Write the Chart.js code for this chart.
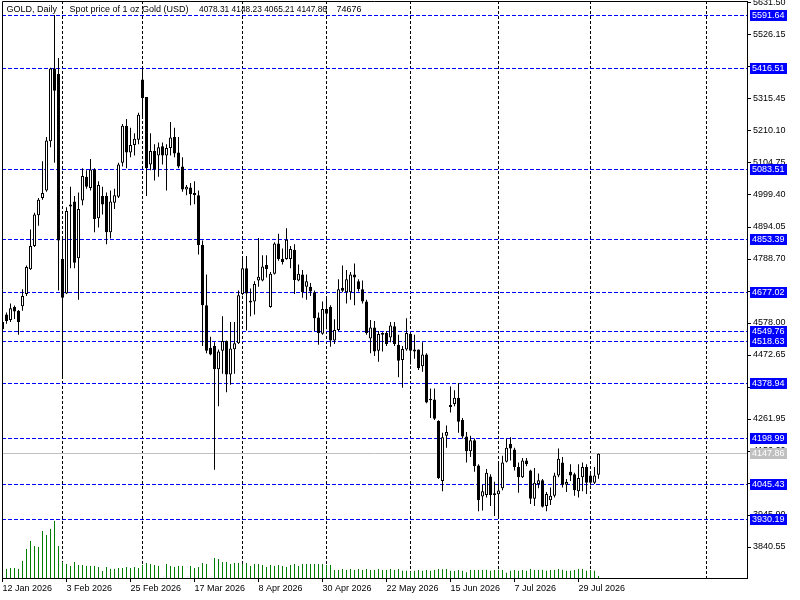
<!DOCTYPE html>
<html>
<head>
<meta charset="utf-8">
<title>GOLD, Daily</title>
<script src="https://cdn.jsdelivr.net/npm/chart.js@4.4.1/dist/chart.umd.min.js"></script>
<style>
  html, body { margin: 0; padding: 0; background: #fff; }
  canvas { display: block; }
</style>
</head>
<body>
<canvas id="goldChart" width="800" height="600"></canvas>
<script>
// daily bars, bar 0 = 12 Jan 2026
const open = [
  4557.4, 4606.1, 4587.8, 4630.5, 4618.3, 4632.9, 4673.1, 4754.7, 4831.4, 4932.5,
  4989.8, 5014.1, 5176.1, 5416.1, 5397.8, 4788.8, 4675.5, 4961.8, 4977.6, 4791.2,
  4981.2, 5059.2, 5022.7, 5083.6, 4922.8, 4995.9, 4995.9, 4876.5, 4973.9, 4993.4,
  5105.5, 5227.3, 5139.6, 5163.9, 5181.0, 5379.5, 5322.3, 5099.4, 5144.5, 5129.8,
  5160.3, 5129.8, 5154.2, 5190.7, 5139.6, 5093.3, 5017.8, 5023.9, 4999.5, 4998.3,
  4835.1, 4636.6, 4496.5, 4502.6, 4425.8, 4486.7, 4518.4, 4408.8, 4491.6, 4511.1,
  4673.1, 4758.4, 4651.2, 4648.7, 4718.2, 4718.2, 4769.3, 4630.5, 4740.1, 4839.9,
  4788.8, 4788.8, 4788.8, 4819.3, 4718.2, 4737.6, 4697.4, 4697.4, 4679.2, 4596.4,
  4542.8, 4624.4, 4630.5, 4520.8, 4554.9, 4693.8, 4679.2, 4679.2, 4737.6, 4715.7,
  4688.9, 4648.7, 4526.9, 4563.5, 4486.7, 4545.2, 4545.2, 4530.6, 4567.1, 4506.2,
  4456.3, 4490.4, 4542.8, 4490.4, 4490.4, 4435.6, 4474.6, 4328.4, 4326.0, 4255.3,
  4058.0, 4206.6, 4301.6, 4311.3, 4332.1, 4259.0, 4204.2, 4155.4, 4192.0, 4109.2,
  4006.8, 4011.7, 4072.6, 4017.8, 4014.2, 4033.6, 4121.3, 4179.8, 4161.5, 4104.3,
  4070.2, 4125.0, 4092.1, 3999.5, 4048.3, 4060.4, 3975.2, 3994.7, 4009.3, 4076.3,
  4118.9, 4045.8, 4088.4, 4079.9, 4023.9, 4070.2, 4104.3, 4076.3, 4051.9, 4078.31
];
const high = [
  4600.0, 4612.2, 4642.6, 4635.3, 4620.7, 4688.9, 4766.9, 4886.2, 4941.0, 4989.8,
  5110.4, 5190.7, 5418.5, 5591.64, 5450.2, 4861.9, 4959.3, 5026.3, 4995.9, 5008.0,
  5087.2, 5081.1, 5117.7, 5087.2, 5044.6, 5026.3, 5008.0, 5014.1, 5020.2, 5105.5,
  5233.4, 5249.2, 5221.2, 5202.9, 5269.9, 5416.5, 5322.3, 5202.9, 5166.4, 5172.5,
  5172.5, 5166.4, 5239.5, 5221.2, 5190.7, 5123.8, 5032.4, 5038.5, 5044.6, 5014.1,
  4849.7, 4737.6, 4533.0, 4514.8, 4490.4, 4600.0, 4520.8, 4581.7, 4581.7, 4685.3,
  4798.5, 4798.5, 4691.4, 4715.7, 4858.2, 4801.0, 4801.0, 4746.2, 4843.6, 4871.6,
  4822.9, 4889.9, 4831.4, 4837.5, 4770.5, 4752.3, 4737.6, 4709.6, 4685.3, 4612.2,
  4648.7, 4667.0, 4636.6, 4590.3, 4721.8, 4766.9, 4752.3, 4746.2, 4774.2, 4721.8,
  4718.2, 4654.8, 4587.8, 4584.2, 4551.3, 4547.6, 4551.3, 4581.7, 4581.7, 4539.1,
  4502.6, 4593.9, 4545.2, 4539.1, 4490.4, 4514.8, 4478.2, 4362.5, 4362.5, 4257.8,
  4216.3, 4240.7, 4368.6, 4356.4, 4380.8, 4265.1, 4218.8, 4206.6, 4198.1, 4112.8,
  4045.8, 4097.0, 4079.9, 4055.6, 4116.5, 4140.8, 4198.1, 4201.7, 4167.6, 4118.9,
  4133.5, 4133.5, 4094.5, 4100.6, 4082.4, 4064.1, 4021.5, 4036.1, 4084.8, 4165.2,
  4137.2, 4064.1, 4112.8, 4084.8, 4112.8, 4118.9, 4112.8, 4082.4, 4104.3, 4148.23
];
const low = [
  4514.7, 4575.7, 4581.7, 4591.5, 4539.1, 4618.3, 4667.0, 4752.3, 4827.8, 4898.4,
  4983.7, 5010.5, 5156.6, 5105.5, 4685.3, 4401.5, 4673.1, 4758.4, 4758.4, 4654.8,
  4965.4, 5020.2, 5014.1, 4876.5, 4892.3, 4935.0, 4837.5, 4855.8, 4953.2, 4989.8,
  5093.3, 5087.2, 5123.8, 5129.8, 5166.4, 5251.6, 4995.9, 5081.1, 5047.0, 5059.2,
  5099.4, 5014.1, 5129.8, 5123.8, 5087.2, 5010.5, 4998.3, 4965.4, 4969.1, 4803.4,
  4502.6, 4478.2, 4472.1, 4094.5, 4304.0, 4411.2, 4350.3, 4374.7, 4411.2, 4508.7,
  4669.4, 4553.7, 4600.0, 4606.1, 4697.4, 4715.7, 4727.9, 4628.0, 4737.6, 4782.7,
  4770.5, 4786.4, 4758.4, 4673.1, 4715.7, 4660.9, 4654.8, 4667.0, 4551.3, 4506.2,
  4539.1, 4557.4, 4500.1, 4508.7, 4551.3, 4679.2, 4642.6, 4654.8, 4636.6, 4681.6,
  4642.6, 4539.1, 4478.2, 4469.7, 4450.2, 4484.3, 4502.6, 4514.8, 4502.6, 4399.0,
  4364.9, 4486.7, 4441.7, 4459.9, 4423.4, 4417.3, 4313.8, 4265.1, 4259.0, 4064.1,
  4023.9, 4167.6, 4283.3, 4304.0, 4216.3, 4198.1, 4118.9, 4137.2, 4088.4, 3958.1,
  3960.6, 4003.2, 3975.2, 3942.3, 3942.3, 4027.6, 4118.9, 4125.0, 4092.1, 4019.0,
  4067.7, 4106.7, 3982.5, 3975.2, 4033.6, 3970.3, 3958.1, 3978.8, 4003.2, 4070.2,
  4036.1, 4021.5, 4058.0, 4009.3, 4003.2, 4023.9, 4015.4, 4043.4, 4048.3, 4065.21
];
const close = [
  4581.7, 4584.2, 4626.8, 4615.8, 4581.7, 4667.0, 4762.0, 4831.4, 4935.0, 4983.7,
  5005.6, 5178.6, 5416.1, 5343.0, 4849.7, 4660.9, 4947.1, 4967.8, 4776.6, 4953.2,
  5061.6, 5026.3, 5083.6, 4920.3, 5032.4, 4967.8, 4876.5, 4977.6, 4998.3, 5099.4,
  5227.3, 5139.6, 5163.9, 5184.7, 5263.8, 5318.6, 5087.2, 5144.5, 5083.6, 5156.6,
  5129.8, 5154.2, 5188.3, 5135.9, 5093.3, 5017.8, 5026.3, 5001.9, 5005.6, 4835.1,
  4636.6, 4486.7, 4474.6, 4425.8, 4484.3, 4518.4, 4408.8, 4494.0, 4511.1, 4669.4,
  4758.4, 4675.5, 4645.1, 4706.0, 4730.4, 4764.4, 4755.9, 4740.1, 4839.9, 4788.8,
  4779.1, 4852.1, 4821.7, 4719.4, 4740.1, 4679.2, 4715.7, 4681.6, 4593.9, 4545.2,
  4624.4, 4608.5, 4520.8, 4554.9, 4688.9, 4684.1, 4721.8, 4737.6, 4727.9, 4688.9,
  4648.7, 4545.2, 4563.5, 4484.3, 4541.6, 4539.1, 4508.7, 4569.6, 4508.7, 4453.9,
  4492.8, 4545.2, 4486.7, 4484.3, 4429.5, 4474.6, 4316.2, 4323.5, 4262.6, 4067.7,
  4201.7, 4218.8, 4307.7, 4332.1, 4252.9, 4204.2, 4155.4, 4192.0, 4106.7, 3994.7,
  4023.9, 4084.8, 4011.7, 4011.7, 4026.3, 4118.9, 4167.6, 4165.2, 4104.3, 4070.2,
  4125.0, 4112.8, 3999.5, 4051.9, 4060.4, 3972.7, 4015.4, 4009.3, 4076.3, 4131.1,
  4045.8, 4054.3, 4076.3, 4027.6, 4067.7, 4104.3, 4051.9, 4051.9, 4076.3, 4147.86
];
const volume = [
  336000, 336000, 373000, 373000, 336000, 635000, 1083000, 1382000, 1195000, 1157000,
  1755000, 1606000, 1830000, 2128000, 1195000, 597000, 523000, 448000, 597000, 485000,
  485000, 448000, 448000, 448000, 411000, 261000, 411000, 336000, 336000, 373000,
  373000, 411000, 373000, 411000, 373000, 485000, 560000, 523000, 485000, 448000,
  0, 523000, 448000, 411000, 448000, 448000, 0, 448000, 373000, 411000,
  560000, 523000, 0, 747000, 709000, 597000, 597000, 523000, 560000, 560000,
  523000, 560000, 448000, 523000, 523000, 485000, 411000, 485000, 448000, 485000,
  448000, 411000, 485000, 523000, 448000, 523000, 523000, 523000, 523000, 523000,
  523000, 485000, 485000, 299000, 299000, 336000, 299000, 336000, 299000, 336000,
  299000, 336000, 299000, 299000, 336000, 299000, 299000, 336000, 299000, 336000,
  273000, 273000, 235000, 273000, 299000, 273000, 299000, 273000, 299000, 336000,
  325000, 336000, 273000, 261000, 299000, 273000, 213000, 299000, 299000, 299000,
  299000, 310000, 273000, 299000, 310000, 299000, 198000, 273000, 299000, 273000,
  299000, 273000, 336000, 299000, 299000, 310000, 273000, 299000, 299000, 336000,
  310000, 273000, 273000, 299000, 336000, 336000, 273000, 299000, 273000, 74676
];

// bottom axis labels and the bar each one sits on
const dateLabels = ["12 Jan 2026", "3 Feb 2026", "25 Feb 2026", "17 Mar 2026", "8 Apr 2026",
  "30 Apr 2026", "22 May 2026", "15 Jun 2026", "7 Jul 2026", "29 Jul 2026"];
const dateBars = [0, 16, 32, 48, 64, 80, 96, 112, 128, 144];

// bars with a vertical grid line
const gridBars = [15, 35, 60, 81, 102, 124, 147, 176];

// right price scale
const priceTicks = [5631.50, 5526.15, 5420.80, 5315.45, 5210.10, 5104.75, 4999.40, 4894.05, 4788.70,
  4683.35, 4578.00, 4472.65, 4367.30, 4261.95, 4156.60, 4051.25, 3945.90, 3840.55];
const levels = [5591.64, 5416.51, 5083.51, 4853.39, 4677.02, 4549.76, 4518.63, 4378.94, 4198.99, 4045.43, 3930.19];
const bid = 4147.86;

const header = ["GOLD, Daily", "Spot price of 1 oz Gold (USD)", "4078.31 4148.23 4065.21 4147.86", "74676"];

const FONT = '"Liberation Sans", Arial, sans-serif';
Chart.defaults.font.family = FONT;
Chart.defaults.font.size = 9;
Chart.defaults.color = '#000';

const ctx = document.getElementById('goldChart');

const bodies = open.map((o, i) => ({ x: i, y: [o, close[i]] }));
const wicks = low.map((l, i) => ({ x: i, y: [l, high[i]] }));
const vols = volume.map((v, i) => ({ x: i, y: v }));

// blue price lines, bid line, their boxes, frame and header
const overlay = {
  id: 'overlay',
  beforeDatasetsDraw(chart) {
    const { ctx, chartArea: a, scales: { y } } = chart;
    ctx.save();
    ctx.lineWidth = 1;
    ctx.strokeStyle = '#0000ff';
    ctx.setLineDash([4, 2]);
    levels.forEach(v => {
      const py = Math.floor(y.getPixelForValue(v)) + 0.5;
      ctx.beginPath();
      ctx.moveTo(a.left, py);
      ctx.lineTo(a.right, py);
      ctx.stroke();
    });
    ctx.setLineDash([]);
    ctx.strokeStyle = '#c0c0c0';
    const pb = Math.floor(y.getPixelForValue(bid)) + 0.5;
    ctx.beginPath();
    ctx.moveTo(a.left, pb);
    ctx.lineTo(a.right, pb);
    ctx.stroke();
    ctx.restore();
  },
  afterDraw(chart) {
    const { ctx, chartArea: a, scales: { y } } = chart;
    ctx.save();
    // frame left + top
    ctx.strokeStyle = '#000';
    ctx.lineWidth = 1;
    ctx.beginPath();
    ctx.moveTo(a.left + 0.5, a.bottom);
    ctx.lineTo(a.left + 0.5, a.top + 0.5);
    ctx.lineTo(a.right, a.top + 0.5);
    ctx.stroke();

    ctx.font = '9px ' + FONT;
    ctx.textBaseline = 'middle';
    const box = (v, bg) => {
      const py = Math.floor(y.getPixelForValue(v));
      ctx.fillStyle = bg;
      ctx.fillRect(a.right + 3, py - 5, 37, 11);
      ctx.fillStyle = '#fff';
      ctx.fillText(v.toFixed(2), a.right + 5, py + 1);
    };
    levels.forEach(v => box(v, '#0000ff'));
    box(bid, '#c0c0c0');

    ctx.fillStyle = '#000';
    ctx.textBaseline = 'alphabetic';
    const hx = [6.5, 69.5, 199, 336.5];
    const hw = [60, 125, 128, 40];
    header.forEach((t, i) => ctx.fillText(t, hx[i], 12, hw[i]));
    ctx.restore();
  }
};

new Chart(ctx, {
  type: 'bar',
  data: {
    datasets: [
      {
        label: 'body',
        data: bodies,
        backgroundColor: open.map((o, i) => close[i] >= o ? '#ffffff' : '#000000'),
        borderColor: '#000000',
        borderWidth: 1,
        borderSkipped: false,
        barThickness: 3,
        inflateAmount: 0,
        grouped: false,
        yAxisID: 'y',
        order: 0
      },
      {
        label: 'wick',
        data: wicks,
        backgroundColor: '#000000',
        borderWidth: 0,
        barThickness: 1,
        inflateAmount: 0,
        grouped: false,
        yAxisID: 'y',
        order: 1
      },
      {
        label: 'volume',
        data: vols,
        backgroundColor: '#008000',
        borderWidth: 0,
        barThickness: 1,
        inflateAmount: 0,
        grouped: false,
        yAxisID: 'vol',
        order: 2
      }
    ]
  },
  options: {
    responsive: false,
    animation: false,
    devicePixelRatio: 1,
    events: [],
    layout: { padding: { left: 2, top: 1, right: 0, bottom: 0 } },
    plugins: {
      legend: { display: false },
      tooltip: { enabled: false }
    },
    scales: {
      x: {
        type: 'linear',
        position: 'bottom',
        min: -0.125,
        max: 186.125,
        offset: false,
        afterBuildTicks: s => { s.ticks = dateBars.map(v => ({ value: v })); },
        afterFit: s => { s.height = 22; s.paddingLeft = 0; s.paddingRight = 0; },
        ticks: {
          autoSkip: false,
          maxRotation: 0,
          align: 'start',
          padding: 1,
          color: '#000',
          callback: v => dateLabels[dateBars.indexOf(v)]
        },
        grid: { offset: false, drawOnChartArea: false, drawTicks: true, tickLength: 4, tickColor: '#000', color: '#000' },
        border: { display: true, color: '#000', width: 1 }
      },
      x2: {
        type: 'linear',
        position: 'top',
        min: -0.125,
        max: 186.125,
        offset: false,
        afterBuildTicks: s => { s.ticks = gridBars.map(v => ({ value: v })); },
        afterFit: s => { s.height = 0; s.paddingLeft = 0; s.paddingRight = 0; },
        ticks: { display: false },
        grid: { offset: false, color: '#000', lineWidth: 1, drawTicks: false },
        border: { display: false, dash: [3, 2] }
      },
      y: {
        type: 'linear',
        position: 'right',
        min: 3738.5,
        max: 5638.08,
        beginAtZero: false,
        afterBuildTicks: s => { s.ticks = priceTicks.map(v => ({ value: v })); },
        afterFit: s => { s.width = 53; s.paddingTop = 0; s.paddingBottom = 0; },
        ticks: { autoSkip: false, padding: 2, color: '#000', callback: v => v.toFixed(2) },
        grid: { drawOnChartArea: false, drawTicks: true, tickLength: 4, tickColor: '#000' },
        border: { color: '#000', width: 1 }
      },
      vol: {
        type: 'linear',
        display: false,
        min: 0,
        max: 21544000
      }
    }
  },
  plugins: [overlay]
});
</script>
</body>
</html>
